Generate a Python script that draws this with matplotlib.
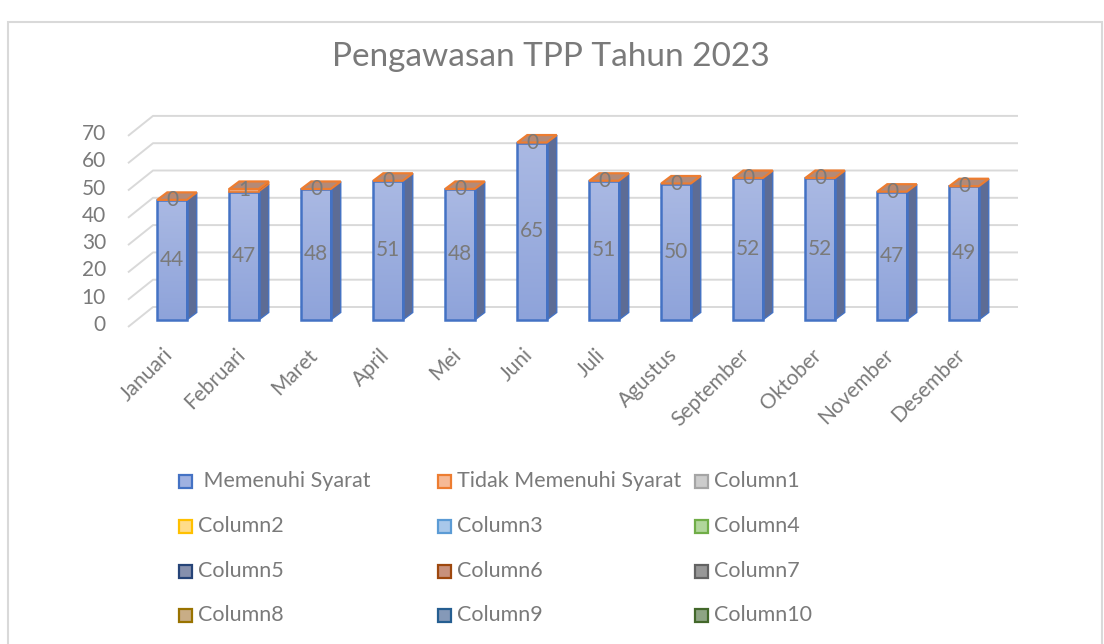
import matplotlib
matplotlib.use('Agg')
import matplotlib.pyplot as plt
import numpy as np
from matplotlib.patches import Rectangle, Polygon
from matplotlib.colors import LinearSegmentedColormap

# ---------------- data ----------------
months = ['Januari', 'Februari', 'Maret', 'April', 'Mei', 'Juni', 'Juli',
          'Agustus', 'September', 'Oktober', 'November', 'Desember']
memenuhi = [44, 47, 48, 51, 48, 65, 51, 50, 52, 52, 47, 49]
tidak_memenuhi = [0, 1, 0, 0, 0, 0, 0, 0, 0, 0, 0, 0]
y_ticks = [0, 10, 20, 30, 40, 50, 60, 70]
title = 'Pengawasan TPP Tahun 2023'
legend_labels = [' Memenuhi Syarat', 'Tidak Memenuhi Syarat', 'Column1',
                 'Column2', 'Column3', 'Column4',
                 'Column5', 'Column6', 'Column7',
                 'Column8', 'Column9', 'Column10']

# ---------------- styles ----------------
legend_faces = ['#9fb1e1', '#f6b995', '#cccccc',
                '#ffdc8a', '#a9c8ea', '#b1d69b',
                '#8690ad', '#c8917c', '#979797',
                '#c8ad86', '#8599b8', '#8ea484']
legend_edges = ['#4472c4', '#ed7d31', '#a5a5a5',
                '#ffc000', '#5b9bd5', '#70ad47',
                '#264478', '#9e480e', '#636363',
                '#997300', '#255e91', '#43682b']
TXT = '#7a7a7a'
FONT = 'Lato'
plt.rcParams['font.family'] = [FONT, 'DejaVu Sans']

W, H = 1104, 644
X0_PX, STEP_PX = 172.0, 72.0
Y0_PX, PX_PER_UNIT = 320.0, 2.73

fig = plt.figure(figsize=(W / 100, H / 100), dpi=100)
ax = fig.add_axes([0, 0, 1, 1])
ax.set_axis_off()


def dx(px):
    return px / STEP_PX


def dv(px):
    return px / PX_PER_UNIT


# depth geometry (in data units)
BAR_HALF = dx(14.75)
DEP_X, DEP_Y = dx(10), dv(7.5)
GRID_FRONT_X, GRID_FRONT_DY = dx(128 - X0_PX), dv(-7)
GRID_BACK_X0, GRID_BACK_X1, GRID_BACK_DY = dx(153 - X0_PX), dx(1018 - X0_PX), dv(13)

# gridlines (back wall + floor diagonals)
for t in y_ticks:
    ax.plot([GRID_FRONT_X, GRID_BACK_X0, GRID_BACK_X1],
            [t + GRID_FRONT_DY, t + GRID_BACK_DY, t + GRID_BACK_DY],
            color='#d9d9d9', lw=1.4, zorder=1, solid_capstyle='butt')
    ax.text(dx(106 - X0_PX), t + GRID_FRONT_DY + dv(2), str(t), ha='right', va='center',
            fontsize=15, color=TXT, zorder=5)

front_cmap = LinearSegmentedColormap.from_list('front', ['#8ea3da', '#aab9e3'])
grad = np.linspace(0, 1, 256).reshape(-1, 1)

for i, (m, tm) in enumerate(zip(memenuhi, tidak_memenuhi)):
    x0, x1 = i - BAR_HALF, i + BAR_HALF
    # front face gradient (darker at the base, lighter at the top)
    ax.imshow(grad, extent=[x0, x1, 0, m], origin='lower', cmap=front_cmap,
              aspect='auto', zorder=3, interpolation='bilinear')
    # side face
    side = Polygon([(x1, 0), (x1 + DEP_X, DEP_Y), (x1 + DEP_X, m + DEP_Y), (x1, m)],
                   closed=True, facecolor='#5d6c95', edgecolor='#4472c4', lw=1.0, zorder=3)
    ax.add_patch(side)
    ax.add_patch(Rectangle((x0, 0), x1 - x0, m, fill=False, edgecolor='#4472c4',
                           lw=1.8, zorder=4))
    # orange stacked segment
    top = m + tm
    if tm > 0:
        ax.add_patch(Rectangle((x0, m), x1 - x0, tm, facecolor='#f0a77a',
                               edgecolor='#ed7d31', lw=1.2, zorder=4))
        ax.add_patch(Polygon([(x1, m), (x1 + DEP_X, m + DEP_Y), (x1 + DEP_X, top + DEP_Y),
                              (x1, top)], closed=True, facecolor='#b0673c',
                             edgecolor='#ed7d31', lw=1.0, zorder=4))
    ax.add_patch(Polygon([(x0, top), (x1, top), (x1 + DEP_X, top + DEP_Y),
                          (x0 + DEP_X, top + DEP_Y)], closed=True,
                         facecolor='#b48a77', edgecolor='#ed7d31', lw=1.6, zorder=4))
    # data labels
    ax.text(i, m / 2, str(m), ha='center', va='center', fontsize=15, color=TXT, zorder=6)
    ax.text(i, m + tm / 2, str(tm), ha='center', va='center', fontsize=15, color=TXT, zorder=6)
    # category label
    ax.text(i - dx(2), dv(320 - 352), months[i], rotation=45, rotation_mode='anchor',
            ha='right', va='center', fontsize=15, color=TXT, zorder=6)

ax.set_xlim(dx(0 - X0_PX), dx(W - X0_PX))
ax.set_ylim(dv(Y0_PX - H), dv(Y0_PX))

# title
fig.text(551 / W, 1 - 66 / H, title, ha='center', va='baseline', fontsize=24, color=TXT)

# legend
col_x = [185, 444, 701]
row_y = [481, 526, 571, 615]
SQ = 13
for k, lab in enumerate(legend_labels):
    r, c = divmod(k, 3)
    cx, cy = col_x[c], row_y[r]
    fig.patches.append(Rectangle(((cx - SQ / 2) / W, 1 - (cy + SQ / 2) / H), SQ / W, SQ / H,
                                 transform=fig.transFigure, facecolor=legend_faces[k],
                                 edgecolor=legend_edges[k], lw=1.6))
    fig.text((cx + 13) / W, 1 - cy / H, lab, ha='left', va='center', fontsize=15.5, color=TXT)

# chart frame
fig.patches.append(Rectangle((8 / W, -0.05), (1102 - 8) / W, 1.05 - 22 / H,
                             transform=fig.transFigure, fill=False,
                             edgecolor='#d9d9d9', lw=1.5))

fig.savefig('out.png', dpi=100)
